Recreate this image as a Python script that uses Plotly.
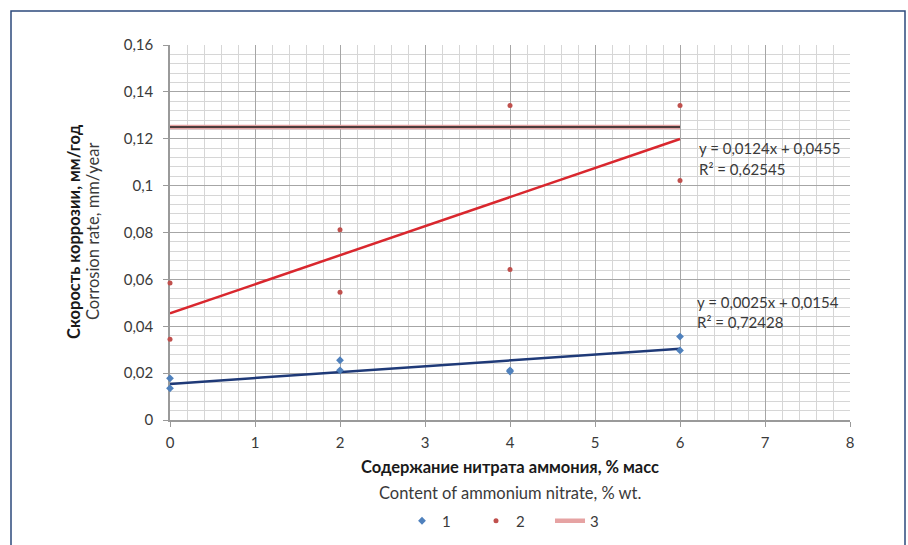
import plotly.graph_objects as go

# ---- data ----
x_series1 = [0, 0, 2, 2, 4, 4, 6, 6]
y_series1 = [0.0178, 0.0135, 0.0255, 0.0212, 0.0212, 0.0207, 0.0356, 0.0297]
x_series2 = [0, 0, 2, 2, 4, 4, 6, 6]
y_series2 = [0.0585, 0.0345, 0.0812, 0.0545, 0.1342, 0.0642, 0.1342, 0.1022]
x_series3 = [0, 6]
y_series3 = [0.125, 0.125]

trend1_slope, trend1_intercept, trend1_r2 = 0.0025, 0.0154, "0,72428"
trend2_slope, trend2_intercept, trend2_r2 = 0.0124, 0.0455, "0,62545"
trend_x = [0, 6]

y_tickvals = [0, 0.02, 0.04, 0.06, 0.08, 0.10, 0.12, 0.14, 0.16]
y_ticktext = ["0", "0,02", "0,04", "0,06", "0,08", "0,1", "0,12", "0,14", "0,16"]
x_tickvals = [0, 1, 2, 3, 4, 5, 6, 7, 8]
x_ticktext = ["0", "1", "2", "3", "4", "5", "6", "7", "8"]

legend_names = ["1", "2", "3"]

FONT = "Lato, 'Open Sans', sans-serif"
TXT = "#3a3a3a"
FS = 15
FT = 16.5

fig = go.Figure()

# series 3 (pink wide line) + black thin line on top
fig.add_trace(go.Scatter(x=x_series3, y=y_series3, mode="lines", name=legend_names[2],
                         line=dict(color="#e6a3a3", width=4.5), legendrank=3))
fig.add_trace(go.Scatter(x=x_series3, y=y_series3, mode="lines", showlegend=False,
                         line=dict(color="#1a1a1a", width=1.5), hoverinfo="skip"))

# trend lines
fig.add_trace(go.Scatter(x=trend_x, y=[trend2_slope * v + trend2_intercept for v in trend_x],
                         mode="lines", showlegend=False, line=dict(color="#d9272e", width=2.5)))
fig.add_trace(go.Scatter(x=trend_x, y=[trend1_slope * v + trend1_intercept for v in trend_x],
                         mode="lines", showlegend=False, line=dict(color="#1f3a78", width=2.5)))

# points
fig.add_trace(go.Scatter(x=x_series1, y=y_series1, mode="markers", name=legend_names[0],
                         marker=dict(symbol="diamond", size=6, color="#4f81bd"),
                         legendrank=1, cliponaxis=False))
fig.add_trace(go.Scatter(x=x_series2, y=y_series2, mode="markers", name=legend_names[1],
                         marker=dict(symbol="circle", size=5, color="#c0504d"),
                         legendrank=2, cliponaxis=False))

L, R, T, B = 170, 850, 45, 420
W, H = 908, 545
pw, ph = R - L, B - T


def px(xp):
    return (xp - L) / pw


def py(yp):
    return (B - yp) / ph


def ann(xp, yp, text, xanchor="left", angle=0, color=TXT, size=FS):
    return dict(x=px(xp), y=py(yp), xref="paper", yref="paper", text=text,
                xanchor=xanchor, yanchor="middle", showarrow=False, textangle=angle,
                font=dict(size=size, color=color, family=FONT))


def fmt(v):
    return str(v).replace(".", ",")


annotations = [
    ann(697, 148, f"y = {fmt(trend2_slope)}x + {fmt(trend2_intercept)}"),
    ann(697, 169, f"R² = {trend2_r2}"),
    ann(695, 302, f"y = {fmt(trend1_slope)}x + {fmt(trend1_intercept)}"),
    ann(695, 322, f"R² = {trend1_r2}"),
    ann(74, 232, "<b>Скорость коррозии, мм/год</b>", "center", -90, "#1a1a1a", FT),
    ann(93, 232, "Corrosion rate, mm/year", "center", -90, TXT, FT),
    ann(510, 467, "<b>Содержание нитрата аммония, % масс</b>", "center", 0, "#1a1a1a", FT),
    ann(510, 493, "Content of ammonium nitrate, % wt.", "center", 0, TXT, FT),
]

shapes = [
    dict(type="rect", xref="paper", yref="paper", x0=px(11), x1=px(905), y0=py(560), y1=py(11),
         line=dict(color="#2c4a7c", width=1.5), layer="below"),
]

fig.update_layout(
    width=W, height=H,
    margin=dict(l=L, r=W - R, t=T, b=H - B, autoexpand=False),
    paper_bgcolor="white", plot_bgcolor="white",
    font=dict(family=FONT, size=FS, color=TXT),
    showlegend=True,
    legend=dict(orientation="h", x=px(402), xanchor="left", y=py(521), yanchor="middle",
                font=dict(size=FS, color=TXT), entrywidth=29, entrywidthmode="pixels",
                bgcolor="rgba(0,0,0,0)"),
    annotations=annotations,
    shapes=shapes,
    xaxis=dict(range=[0, 8], tickvals=x_tickvals, ticktext=x_ticktext,
               showgrid=True, gridcolor="#a6a6a6", gridwidth=1,
               minor=dict(dtick=0.2, tick0=0, showgrid=True, gridcolor="#d6d6d6", gridwidth=1),
               showline=True, linecolor="#9a9a9a", linewidth=1.5,
               ticks="outside", ticklen=5, tickcolor="#9a9a9a", ticklabelstandoff=3,
               zeroline=False, tickfont=dict(size=FS, color=TXT), fixedrange=True,
               layer="below traces"),
    yaxis=dict(range=[0, 0.16], tickvals=y_tickvals, ticktext=y_ticktext,
               showgrid=True, gridcolor="#a6a6a6", gridwidth=1,
               minor=dict(dtick=0.004, tick0=0, showgrid=True, gridcolor="#d6d6d6", gridwidth=1),
               showline=True, linecolor="#9a9a9a", linewidth=1.5,
               ticks="outside", ticklen=5, tickcolor="#9a9a9a", ticklabelstandoff=7,
               zeroline=False, tickfont=dict(size=FS, color=TXT), fixedrange=True,
               layer="below traces"),
)

fig.write_html("out.html", config={"displayModeBar": False},
               post_script="document.body.style.margin='0';document.body.style.overflow='hidden';")
